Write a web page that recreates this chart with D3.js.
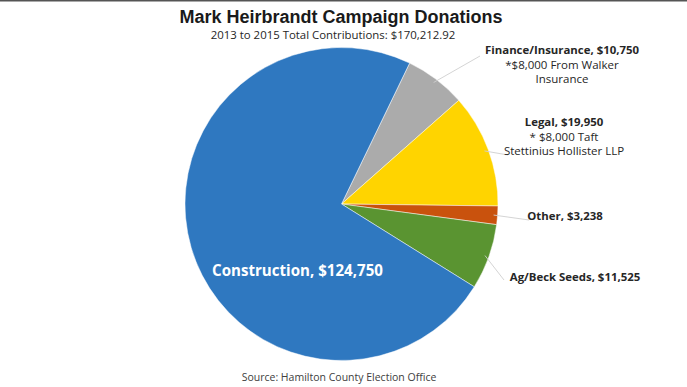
<!DOCTYPE html>
<html><head><meta charset="utf-8">
<script src="https://cdn.jsdelivr.net/npm/d3@7"></script>
<style>html,body{margin:0;padding:0;background:#fff;}svg{display:block;}</style>
</head><body>
<script>
const categories = ["Finance/Insurance", "Legal", "Other", "Ag/Beck Seeds", "Construction"];
const values = [10750, 19950, 3238, 11525, 124750];
const labelLines = [
  ["Finance/Insurance, $10,750", "*$8,000 From Walker", "Insurance"],
  ["Legal, $19,950", "* $8,000 Taft", "Stettinius Hollister LLP"],
  ["Other, $3,238"],
  ["Ag/Beck Seeds, $11,525"],
  ["Construction, $124,750"]
];
const colors = ["#ABABAB", "#FFD400", "#C9520D", "#5A9431", "#2F78C0"];
const title = "Mark Heirbrandt Campaign Donations";
const subtitle = "2013 to 2015 Total Contributions: $170,212.92";
const source = "Source: Hamilton County Election Office";

const W = 687, H = 387;
const svg = d3.select("body").append("svg").attr("width", W).attr("height", H);
svg.append("rect").attr("x",0).attr("y",0).attr("width",W).attr("height",H).attr("fill","#fff");
svg.append("rect").attr("x",0).attr("y",0).attr("width",W).attr("height",1.5).attr("fill","#555");

const cx = 341.5, cy = 204, R = 156.5;
const startDeg = 25.8;
const pie = d3.pie().sort(null).value(d => d)
  .startAngle(startDeg * Math.PI / 180)
  .endAngle((startDeg + 360) * Math.PI / 180);
const arcs = pie(values);
const arc = d3.arc().innerRadius(0).outerRadius(R);

const g = svg.append("g").attr("transform", `translate(${cx},${cy})`);
g.selectAll("path").data(arcs).join("path")
  .attr("d", arc)
  .attr("fill", (d, i) => colors[i])
  .attr("stroke", "rgba(255,255,255,0.6)")
  .attr("stroke-width", 0.8);

const font = "'Open Sans', 'DejaVu Sans', sans-serif";
const labelPos = [
  {x: 562, y: 50, lx: 480, ly: 56},
  {x: 564, y: 122, lx: 508, ly: 155},
  {x: 565, y: 216, lx: 529, ly: 220},
  {x: 575, y: 277, lx: 504, ly: 280}
];
const lineH = 14.5;
labelPos.forEach((p, i) => {
  const a = arcs[i];
  const mid = (a.startAngle + a.endAngle) / 2;
  const r0 = R - 4;
  const x0 = cx + Math.sin(mid) * r0, y0 = cy - Math.cos(mid) * r0;
  svg.append("line").attr("x1", x0).attr("y1", y0).attr("x2", p.lx).attr("y2", p.ly)
    .attr("stroke", "#cfcfcf").attr("stroke-width", 0.9);
  const t = svg.append("text").attr("text-anchor", "middle")
    .attr("font-family", font).attr("fill", "#262626");
  labelLines[i].forEach((ln, j) => {
    t.append("tspan").attr("x", p.x).attr("y", p.y + 4 + j * lineH)
      .attr("font-weight", j === 0 ? 700 : 400)
      .attr("font-size", j === 0 ? 11.4 : 11.5)
      .text(ln);
  });
});

svg.append("text").attr("x", 297.5).attr("y", 275.5).attr("text-anchor", "middle")
  .attr("font-family", font).attr("font-weight", 700).attr("font-size", 15.1)
  .attr("fill", "#fff").text(labelLines[4][0]);

svg.append("text").attr("x", 341).attr("y", 23).attr("text-anchor", "middle")
  .attr("font-family", "'Liberation Sans', Arial, sans-serif").attr("font-weight", 700)
  .attr("font-size", 18).attr("fill", "#1a1a1a").text(title);
svg.append("text").attr("x", 333).attr("y", 39).attr("text-anchor", "middle")
  .attr("font-family", font).attr("font-size", 11.4).attr("fill", "#262626").text(subtitle);
svg.append("text").attr("x", 339).attr("y", 381).attr("text-anchor", "middle")
  .attr("font-family", font).attr("font-size", 10.5).attr("fill", "#404040").text(source);
</script>
</body></html>
